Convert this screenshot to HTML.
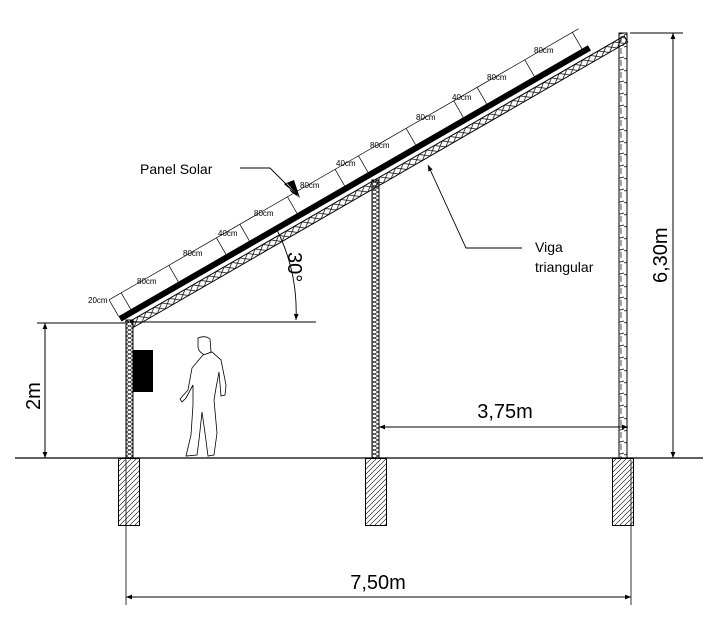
<!DOCTYPE html>
<html><head><meta charset="utf-8"><style>
html,body{margin:0;padding:0;background:#fff;}
svg{display:block;font-family:"Liberation Sans",Arial,sans-serif;}
</style></head><body>
<svg width="718" height="627" viewBox="0 0 718 627" xmlns="http://www.w3.org/2000/svg">
<defs>
<pattern id="zz" width="7" height="8" patternUnits="userSpaceOnUse">
<path d="M0 0 L7 4 L0 8 M7 0 L0 4 L7 8" stroke="#000" stroke-width="0.7" fill="none"/>
</pattern>
<pattern id="tr" width="9" height="7" patternUnits="userSpaceOnUse">
<path d="M0 0 L9 7 M9 0 L0 7" stroke="#000" stroke-width="0.7" fill="none"/>
</pattern>
<pattern id="hat" width="5" height="5" patternUnits="userSpaceOnUse">
<path d="M0 5 L5 0 M-1 1 L1 -1 M4 6 L6 4" stroke="#000" stroke-width="0.6"/>
</pattern>
<pattern id="lad" width="8" height="12" patternUnits="userSpaceOnUse">
<path d="M0 11 L8 9 M5 0 L5 6" stroke="#000" stroke-width="0.7" fill="none"/>
</pattern>
<marker id="ar" viewBox="0 0 10 10" refX="10" refY="5" markerWidth="12" markerHeight="6" orient="auto-start-reverse" markerUnits="userSpaceOnUse">
<path d="M0 1 L10 5 L0 9 Z" fill="#000"/>
</marker>
</defs>

<!-- ground -->
<line x1="15" y1="458" x2="703" y2="458" stroke="#000" stroke-width="1.3"/>

<!-- foundations -->
<rect x="118.5" y="458.5" width="21" height="67" fill="url(#hat)" stroke="#000"/>
<rect x="365.5" y="458.5" width="21" height="67" fill="url(#hat)" stroke="#000"/>
<rect x="612.5" y="458.5" width="21" height="67" fill="url(#hat)" stroke="#000"/>

<!-- posts -->
<rect x="126" y="320" width="7" height="138" fill="url(#zz)" stroke="#000"/>
<rect x="372" y="180" width="7" height="278" fill="url(#zz)" stroke="#000"/>
<rect x="619" y="33" width="8" height="425" fill="url(#lad)" stroke="#000"/>

<!-- inclined truss, panel and dims -->
<g transform="translate(134,327) rotate(-30)">
<rect x="0" y="-7" width="570" height="7" fill="url(#tr)" stroke="#000" stroke-width="1"/>
<line x1="-8" y1="-14" x2="534" y2="-14" stroke="#000" stroke-width="6"/>
<line x1="-8" y1="-36" x2="534" y2="-36" stroke="#000" stroke-width="0.7"/>
<g stroke="#000" stroke-width="0.7">
<line x1="-8" y1="-36" x2="-8" y2="-17"/>
<line x1="6" y1="-36" x2="6" y2="-17"/>
<line x1="61" y1="-36" x2="61" y2="-17"/>
<line x1="116" y1="-36" x2="116" y2="-17"/>
<line x1="143" y1="-36" x2="143" y2="-17"/>
<line x1="198" y1="-36" x2="198" y2="-17"/>
<line x1="253" y1="-36" x2="253" y2="-17"/>
<line x1="280" y1="-36" x2="280" y2="-17"/>
<line x1="335" y1="-36" x2="335" y2="-17"/>
<line x1="390" y1="-36" x2="390" y2="-17"/>
<line x1="417" y1="-36" x2="417" y2="-17"/>
<line x1="472" y1="-36" x2="472" y2="-17"/>
<line x1="527" y1="-36" x2="527" y2="-17"/>
</g>
</g>

<!-- panel dim labels -->
<g font-size="8" fill="#000">
<text x="88" y="303">20cm</text>
<text x="137" y="284">80cm</text>
<text x="183" y="256">80cm</text>
<text x="218" y="236">40cm</text>
<text x="254" y="216">80cm</text>
<text x="300" y="188">80cm</text>
<text x="336" y="166">40cm</text>
<text x="370" y="148">80cm</text>
<text x="416" y="120">80cm</text>
<text x="452" y="100">40cm</text>
<text x="487" y="80">80cm</text>
<text x="534" y="53">80cm</text>
</g>

<!-- angle -->
<line x1="125" y1="322" x2="316" y2="322" stroke="#000" stroke-width="1"/>
<path d="M276 228 A 185 185 0 0 1 296 320" fill="none" stroke="#000" stroke-width="0.9" marker-end="url(#ar)"/>
<text x="0" y="0" font-size="20" transform="translate(288,252) rotate(90)">30°</text>

<!-- Panel Solar label -->
<text x="140" y="174" font-size="14">Panel Solar</text>
<polyline points="240,168 270,168 297,195" fill="none" stroke="#000" stroke-width="0.9"/>
<path d="M286 182 L300 198 L291 192 Z M284 184 L300 198 L294 180 Z" fill="#000"/>

<!-- Viga triangular label -->
<text x="535" y="252" font-size="14">Viga</text>
<text x="535" y="272" font-size="14">triangular</text>
<polyline points="522,248 466,248 428,165" fill="none" stroke="#000" stroke-width="0.9" marker-end="url(#ar)"/>

<!-- black box -->
<rect x="133" y="350" width="20" height="42" fill="#000"/>

<!-- person -->
<g fill="#fff" stroke="#000" stroke-width="0.8">
<path d="M198 338 Q205 335 210 339 L211 352 L205 355 Q198 352 198 346 Z"/>
<path d="M203 355 L212 352 L221 360 L226 385 L225 395 L221 396 L219 372 L216 388 L214 400 L217 433 L214 455 L208 456 L205 433 L202 412 L199 440 L197 455 L186 456 L191 435 L193 405 L193 385 L186 398 L182 402 L180 399 L188 390 L192 368 Z"/>
</g>

<!-- 2m dim -->
<line x1="37" y1="323" x2="125" y2="323" stroke="#000" stroke-width="1"/>
<line x1="45" y1="323" x2="45" y2="458" stroke="#000" stroke-width="1" marker-start="url(#ar)" marker-end="url(#ar)"/>
<text x="0" y="0" font-size="20" transform="translate(40,410) rotate(-90)">2m</text>

<!-- 6,30m dim -->
<line x1="630" y1="33" x2="683" y2="33" stroke="#000" stroke-width="1"/>
<line x1="673" y1="33" x2="673" y2="458" stroke="#000" stroke-width="1" marker-start="url(#ar)" marker-end="url(#ar)"/>
<text x="0" y="0" font-size="20" transform="translate(667,283) rotate(-90)">6,30m</text>

<!-- 3,75m dim -->
<line x1="379" y1="427" x2="628" y2="427" stroke="#000" stroke-width="1" marker-start="url(#ar)" marker-end="url(#ar)"/>
<text x="505" y="418" font-size="20" text-anchor="middle">3,75m</text>

<!-- 7,50m dim -->
<line x1="126" y1="460" x2="126" y2="605" stroke="#000" stroke-width="0.8"/>
<line x1="631" y1="460" x2="631" y2="605" stroke="#000" stroke-width="0.8"/>
<line x1="126" y1="597" x2="631" y2="597" stroke="#000" stroke-width="1" marker-start="url(#ar)" marker-end="url(#ar)"/>
<text x="378" y="589" font-size="20" text-anchor="middle">7,50m</text>
</svg>
</body></html>
